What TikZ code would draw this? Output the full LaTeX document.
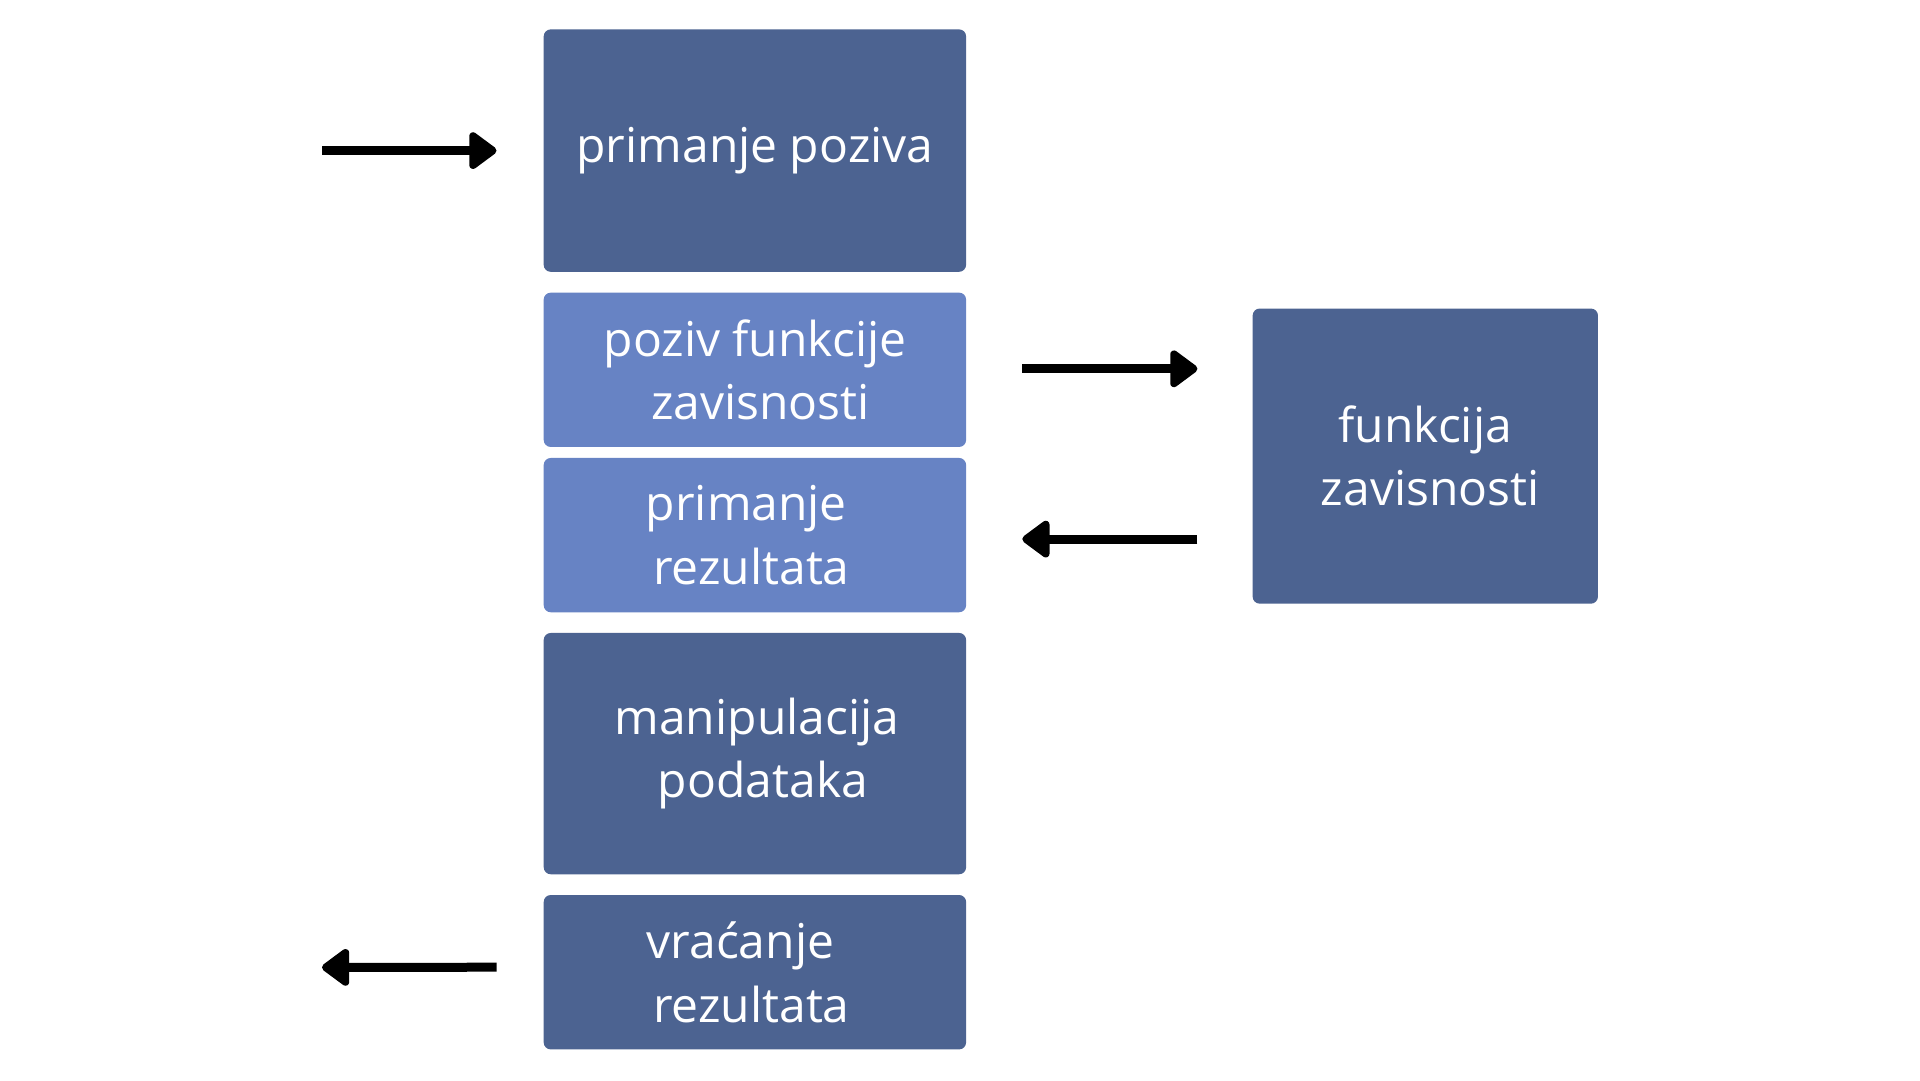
\documentclass[tikz,border=0pt]{standalone}
\usepackage{fontspec}
\setmainfont{Open Sans}
\usetikzlibrary{arrows.meta,calc}
\definecolor{darkbox}{HTML}{4C6391}
\definecolor{lightbox}{HTML}{6783C4}
\newcommand\boxshiftL[2]{\hbox{\kern#1#2}}
\newcommand\boxshiftR[2]{\hbox{#2\kern#1}}
\tikzset{
  box/.style={rectangle, rounded corners=7pt, inner sep=0pt, text=white, align=center,
    font=\fontsize{48}{63.5}\selectfont, minimum width=422.4pt},
  darkb/.style={box, fill=darkbox},
  lightb/.style={box, fill=lightbox},
  flow/.style={line width=9pt, -{Triangle[round,length=30pt,width=42pt]}}
}
\begin{document}
\begin{tikzpicture}[x=1pt,y=-1pt]
\useasboundingbox (0,0) rectangle (1920,1080);
\node[darkb, minimum height=242.4pt] (b1) at (754.9,150.6) {primanje poziva};
\node[lightb, minimum height=154.3pt] (b2) at (754.9,369.8) {poziv funkcije\\\boxshiftL{11pt}{zavisnosti}};
\node[lightb, minimum height=154.3pt] (b3) at (754.9,535.1) {\boxshiftR{17pt}{primanje}\\\boxshiftR{7pt}{rezultata}};
\node[darkb, minimum height=241.3pt] (b4) at (754.9,753.6) {\boxshiftL{4pt}{manipulacija}\\\boxshiftL{16pt}{podataka}};
\node[darkb, minimum height=154.4pt] (b5) at (754.9,972.2) {\boxshiftR{29pt}{vraćanje}\\\boxshiftR{7pt}{rezultata}};
\node[darkb, minimum width=345.3pt, minimum height=295.1pt] (b6) at (1425.3,456.1) {funkcija\\\boxshiftL{10pt}{zavisnosti}};
\coordinate (in) at (322,150.6);
\coordinate (out) at (322,967.4);
\draw[flow] (in) -- ($(b1.west)+(-47,0)$);
\draw[flow] ($(b2.east)+(56,-1)$) -- ($(b6.west|-b2.east)+(-55,-1)$);
\draw[flow] ($(b6.west|-b3.east)+(-55,4)$) -- ($(b3.east)+(56,4)$);
\draw[flow] ($(b5.west)+(-47,-5)$) -- (out);
\end{tikzpicture}
\end{document}
